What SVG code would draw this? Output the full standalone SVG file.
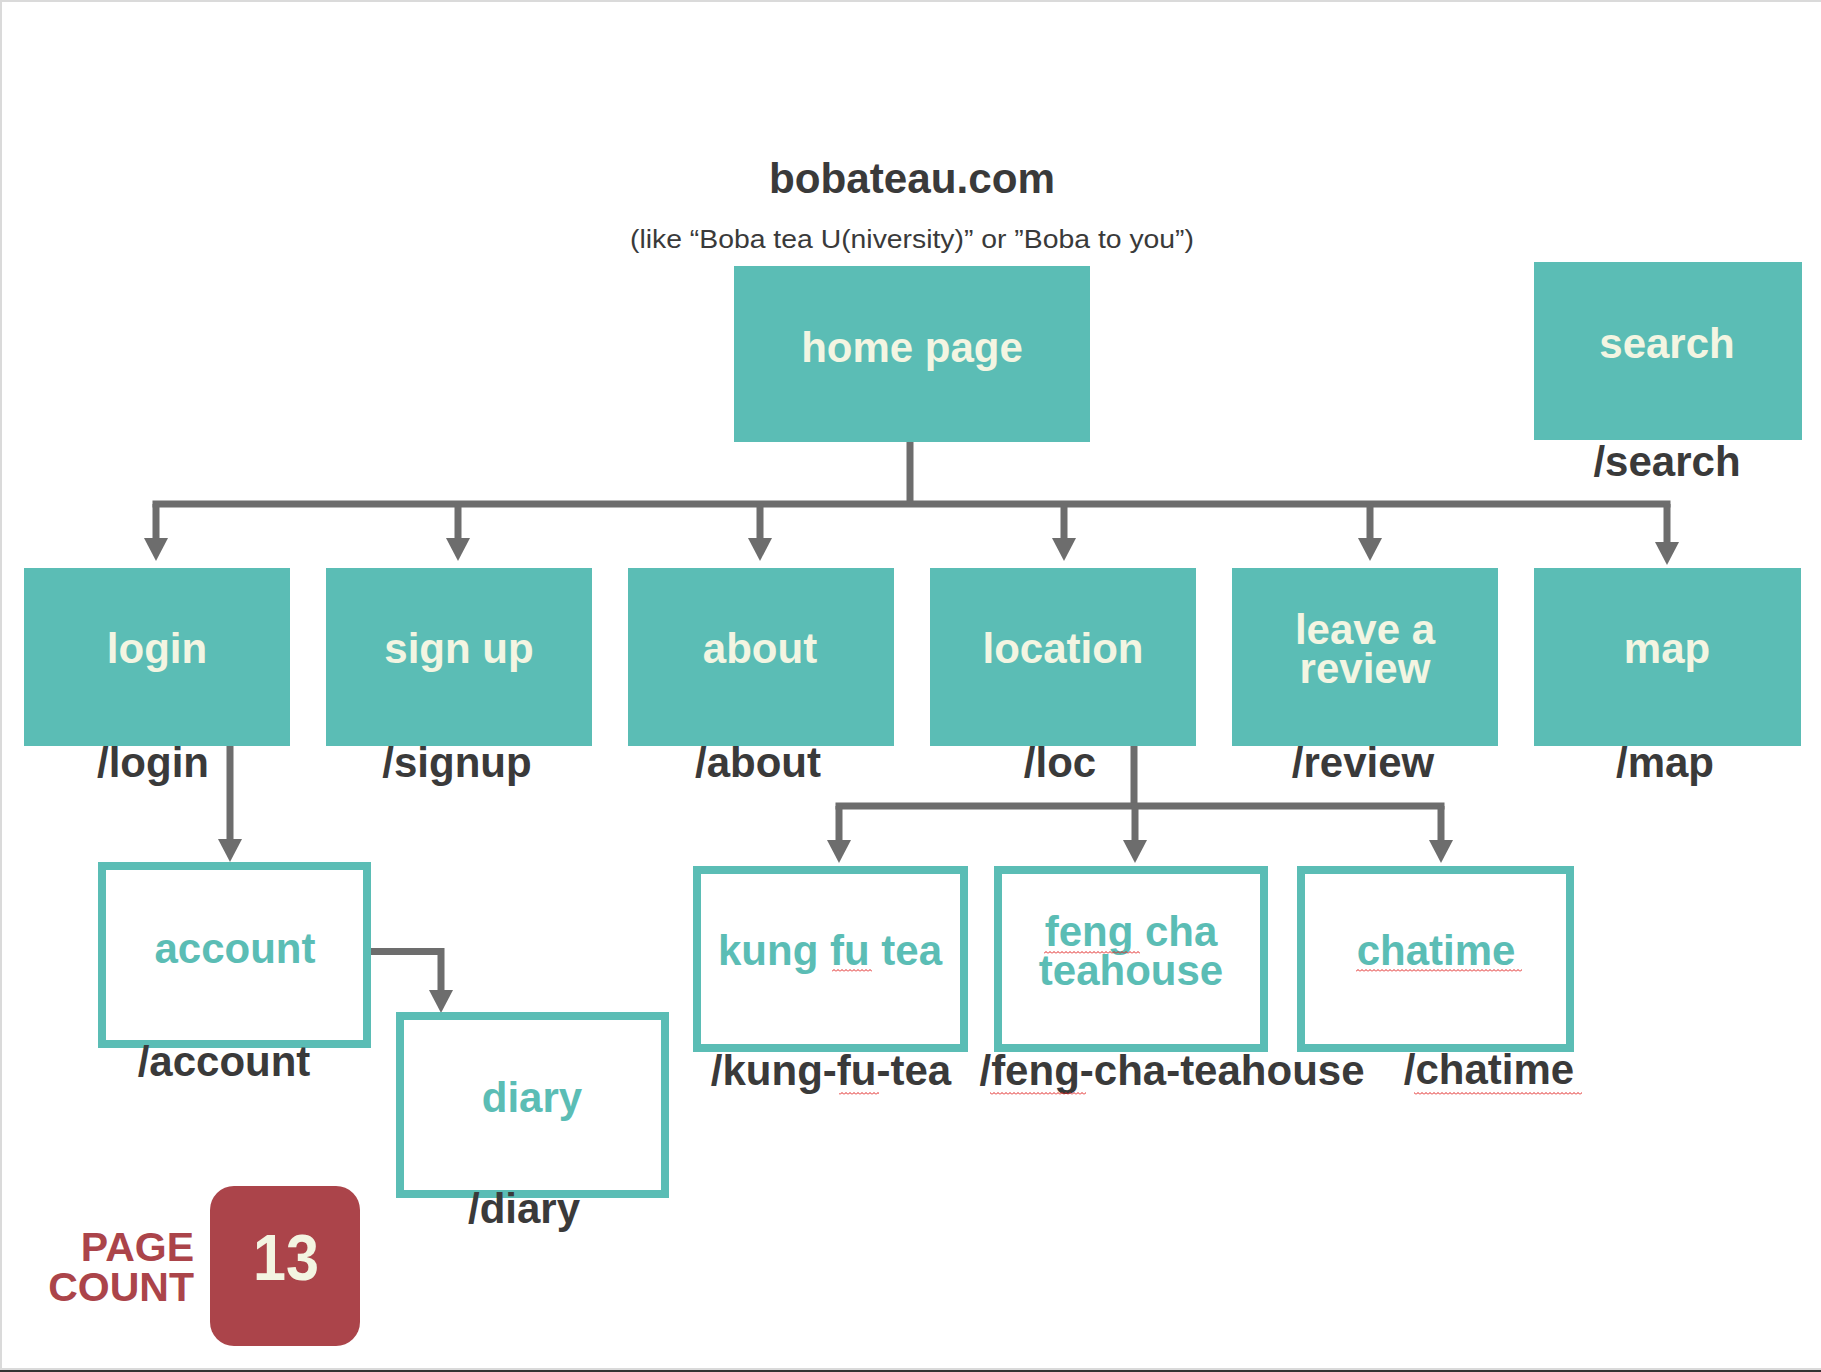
<svg xmlns="http://www.w3.org/2000/svg" width="1821" height="1372" viewBox="0 0 1821 1372">
<style>
.fill{fill:#5BBDB5}
.out{fill:#FFFFFF;stroke:#5BBDB5;stroke-width:8}
.lab{font-family:"Liberation Sans",Arial,Helvetica,sans-serif;font-weight:bold;font-size:42px;text-anchor:middle}
.cream{fill:#F3F5E2}
.teal{fill:#5BBDB5}
.dark{fill:#3A3A3A}
.conn{fill:none;stroke:#6D6D6D;stroke-width:7;stroke-linejoin:miter}
.red{fill:#AB444A}
</style>
<defs>
<marker id="ah" markerUnits="userSpaceOnUse" markerWidth="23" markerHeight="24" viewBox="0 0 23 24" refX="0" refY="12" orient="auto">
<polygon points="0,0 23,12 0,24" fill="#6D6D6D"/>
</marker>
<pattern id="squig" patternUnits="userSpaceOnUse" width="4" height="3">
<path d="M0 2.5 L2 0.5 L4 2.5" fill="none" stroke="#E0201E" stroke-width="1"/>
</pattern>
</defs>
<rect x="0" y="0" width="1821" height="1372" fill="#FFFFFF"/>
<rect x="0" y="0" width="1821" height="2" fill="#DADADA"/>
<rect x="0" y="0" width="2" height="1372" fill="#DADADA"/>
<rect x="0" y="1368" width="1821" height="2" fill="#DADADA"/>
<rect x="0" y="1370" width="1821" height="2" fill="#333333"/>

<g id="title">
<text x="912" y="193" class="lab dark" textLength="286" lengthAdjust="spacingAndGlyphs">bobateau.com</text>
<text x="912" y="248" font-family="Liberation Sans,Arial,sans-serif" font-size="25" text-anchor="middle" fill="#3A3A3A" textLength="564" lengthAdjust="spacingAndGlyphs">(like “Boba tea U(niversity)” or ”Boba to you”)</text>
</g>

<g id="connectors">
<path class="conn" d="M910 441 V504"/>
<path class="conn" d="M152.5 504 H1670.5"/>
<path class="conn" d="M156 504 V538" marker-end="url(#ah)"/>
<path class="conn" d="M458 504 V538" marker-end="url(#ah)"/>
<path class="conn" d="M760 504 V538" marker-end="url(#ah)"/>
<path class="conn" d="M1064 504 V538" marker-end="url(#ah)"/>
<path class="conn" d="M1370 504 V538" marker-end="url(#ah)"/>
<path class="conn" d="M1667 504 V542" marker-end="url(#ah)"/>
<path class="conn" d="M230 744 V839" marker-end="url(#ah)"/>
<path class="conn" d="M368 951.5 H441 V990" marker-end="url(#ah)"/>
<path class="conn" d="M1134 744 V806"/>
<path class="conn" d="M835.5 806 H1444.5"/>
<path class="conn" d="M839 806 V840" marker-end="url(#ah)"/>
<path class="conn" d="M1135 806 V840" marker-end="url(#ah)"/>
<path class="conn" d="M1441 806 V840" marker-end="url(#ah)"/>
</g>

<g id="home">
<rect class="fill" x="734" y="266" width="356" height="176"/>
<text class="lab cream" x="912" y="362">home page</text>
</g>
<g id="search">
<rect class="fill" x="1534" y="262" width="268" height="178"/>
<text class="lab cream" x="1667" y="358">search</text>
<text class="lab dark" x="1667" y="476">/search</text>
</g>
<g id="login">
<rect class="fill" x="24" y="568" width="266" height="178"/>
<text class="lab cream" x="157" y="663">login</text>
<text class="lab dark" x="153" y="777">/login</text>
</g>
<g id="signup">
<rect class="fill" x="326" y="568" width="266" height="178"/>
<text class="lab cream" x="459" y="663">sign up</text>
<text class="lab dark" x="457" y="777">/signup</text>
</g>
<g id="about">
<rect class="fill" x="628" y="568" width="266" height="178"/>
<text class="lab cream" x="760" y="663">about</text>
<text class="lab dark" x="758" y="777">/about</text>
</g>
<g id="location">
<rect class="fill" x="930" y="568" width="266" height="178"/>
<text class="lab cream" x="1063" y="663">location</text>
<text class="lab dark" x="1060" y="777">/loc</text>
</g>
<g id="review">
<rect class="fill" x="1232" y="568" width="266" height="178"/>
<text class="lab cream" x="1365" y="644">leave a</text>
<text class="lab cream" x="1365" y="683">review</text>
<text class="lab dark" x="1363" y="777">/review</text>
</g>
<g id="map">
<rect class="fill" x="1534" y="568" width="267" height="178"/>
<text class="lab cream" x="1667" y="663">map</text>
<text class="lab dark" x="1665" y="777">/map</text>
</g>
<g id="account">
<rect class="out" x="102" y="866" width="265" height="178"/>
<text class="lab teal" x="235" y="963">account</text>
<text class="lab dark" x="224" y="1076">/account</text>
</g>
<g id="diary">
<rect class="out" x="400" y="1016" width="265" height="178"/>
<text class="lab teal" x="532" y="1112">diary</text>
<text class="lab dark" x="524" y="1223">/diary</text>
</g>
<g id="kungfutea">
<rect class="out" x="697" y="870" width="267" height="178"/>
<text class="lab teal" x="830" y="965">kung fu tea</text>
<text class="lab dark" x="831" y="1085">/kung-fu-tea</text>
<rect x="832" y="969" width="40" height="3" fill="url(#squig)"/>
<rect x="839" y="1092" width="40" height="3" fill="url(#squig)"/>
</g>
<g id="fengcha">
<rect class="out" x="998" y="870" width="266" height="178"/>
<text class="lab teal" x="1131" y="946">feng cha</text>
<text class="lab teal" x="1131" y="985">teahouse</text>
<text class="lab dark" x="1172" y="1085">/feng-cha-teahouse</text>
<rect x="1044" y="951" width="96" height="3" fill="url(#squig)"/>
<rect x="990" y="1092" width="96" height="3" fill="url(#squig)"/>
</g>
<g id="chatime">
<rect class="out" x="1301" y="870" width="269" height="178"/>
<text class="lab teal" x="1436" y="965">chatime</text>
<text class="lab dark" x="1489" y="1084">/chatime</text>
<rect x="1356" y="969" width="166" height="3" fill="url(#squig)"/>
<rect x="1414" y="1092" width="168" height="3" fill="url(#squig)"/>
</g>

<g id="pagecount">
<rect class="red" x="210" y="1186" width="150" height="160" rx="24"/>
<text class="lab cream" x="286" y="1280" style="font-size:64px" textLength="66" lengthAdjust="spacingAndGlyphs">13</text>
<text class="lab red" x="194" y="1261" style="font-size:41px;text-anchor:end">PAGE</text>
<text class="lab red" x="194" y="1301" style="font-size:41px;text-anchor:end">COUNT</text>
</g>
</svg>
